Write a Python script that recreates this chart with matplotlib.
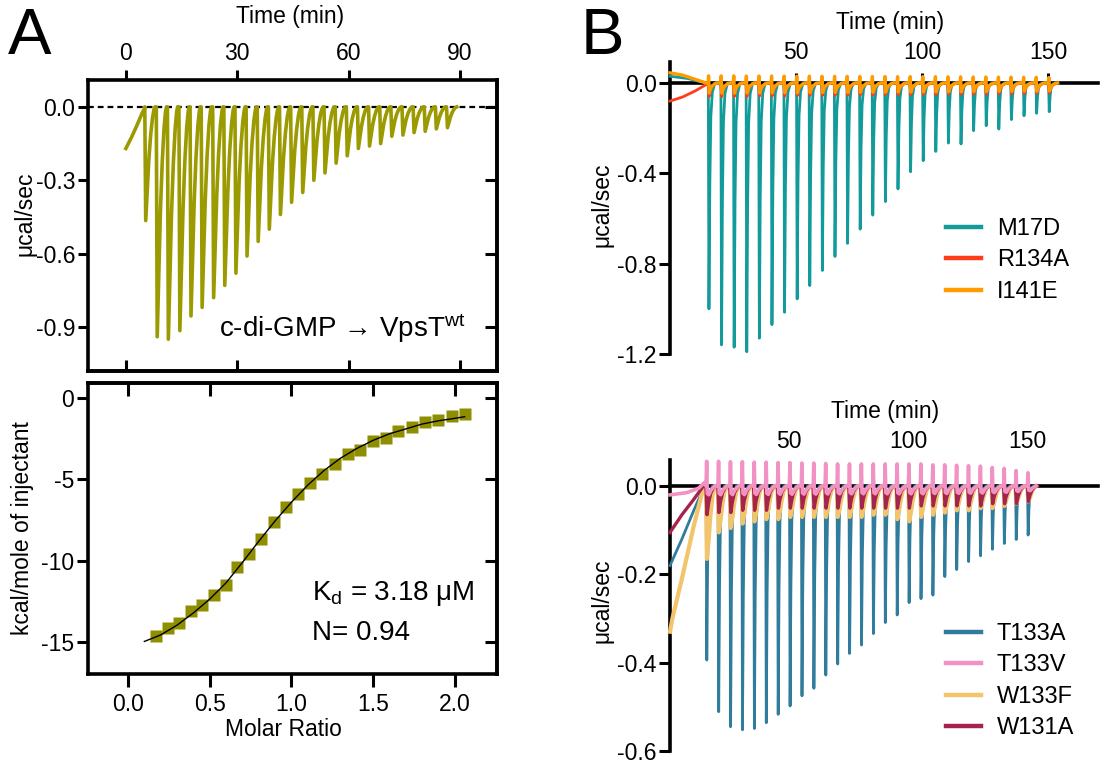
import matplotlib
matplotlib.use('Agg')
import matplotlib.pyplot as plt
from matplotlib.ticker import FormatStrFormatter

plt.rcParams['font.family'] = ['Liberation Sans', 'DejaVu Sans']
plt.rcParams['axes.unicode_minus'] = False
plt.rcParams['mathtext.fontset'] = 'custom'
plt.rcParams['mathtext.rm'] = 'Liberation Sans'
plt.rcParams['mathtext.it'] = 'Liberation Sans:italic'

# ---------------- data ----------------
# panel A, raw thermogram (c-di-GMP -> VpsT wt)
a_start = [(0.0, -0.17), (1.5, -0.125), (3.0, -0.075), (4.4, -0.025), (5.0, -0.008)]
a_inj = [5.3, 8.4, 11.4, 14.5, 17.5, 20.5, 23.6, 26.6, 29.6, 32.6, 35.6, 38.6, 41.6, 44.6,
         47.6, 50.6, 53.6, 56.6, 59.6, 62.6, 65.6, 68.6, 71.6, 74.6, 77.6, 80.6, 83.6, 86.6]
a_peak = [-0.465, -0.94, -0.95, -0.915, -0.855, -0.82, -0.78, -0.73, -0.68, -0.61, -0.55, -0.50,
          -0.44, -0.39, -0.35, -0.30, -0.27, -0.23, -0.20, -0.17, -0.16, -0.15, -0.12, -0.115,
          -0.105, -0.10, -0.09, -0.085]
a_shape = [(-0.2, 0.0), (0.05, 1.0), (0.45, 0.74), (0.9, 0.46), (1.4, 0.24), (1.9, 0.09),
           (2.3, 0.02), (2.55, 0.0)]

# panel A, integrated heats
molar_ratio = [0.169, 0.245, 0.31, 0.384, 0.453, 0.527, 0.598, 0.669, 0.741, 0.816, 0.892, 0.965,
               1.04, 1.116, 1.19, 1.265, 1.347, 1.418, 1.5, 1.578, 1.653, 1.735, 1.816, 1.898,
               1.98, 2.06]
heat = [-14.62, -14.1, -13.8, -13.1, -12.7, -12.1, -11.5, -10.4, -9.57, -8.65, -7.63, -6.69,
        -5.89, -5.21, -4.64, -4.05, -3.42, -3.17, -2.66, -2.45, -2.04, -1.78, -1.49, -1.33,
        -1.12, -0.96]
fit_x = [0.1, 0.2, 0.3, 0.4, 0.5, 0.6, 0.7, 0.8, 0.9, 1.0, 1.1, 1.2, 1.3, 1.4, 1.5, 1.6, 1.7,
         1.8, 1.9, 2.0, 2.06]
fit_y = [-14.95, -14.55, -13.95, -13.2, -12.35, -11.35, -10.1, -8.8, -7.55, -6.4, -5.35, -4.45,
         -3.7, -3.1, -2.6, -2.2, -1.9, -1.6, -1.4, -1.25, -1.15]

# panel B, injection times (min) shared by all mutants
b_inj = [15.3, 20.3, 25.3, 30.3, 35.3, 40.3, 45.3, 50.3, 55.3, 60.3, 65.3, 70.3, 75.3, 80.3,
         85.3, 90.3, 95.3, 100.3, 105.3, 110.3, 115.3, 120.3, 125.3, 130.3, 135.3, 140.3,
         145.3, 150.3]

# B top
m17d_start = [(0.0, 0.03), (7.0, 0.02), (12.0, 0.006), (15.0, 0.0)]
m17d_peak = [-1.00, -1.16, -1.17, -1.19, -1.13, -1.07, -1.015, -0.956, -0.897, -0.83, -0.768,
             -0.71, -0.647, -0.585, -0.525, -0.469, -0.393, -0.344, -0.303, -0.266, -0.27,
             -0.211, -0.189, -0.204, -0.162, -0.145, -0.134, -0.127]
r134a_start = [(0.0, -0.08), (5.0, -0.062), (10.0, -0.035), (14.5, -0.006)]
r134a_peak = [-0.06, -0.06, -0.06, -0.06, -0.058, -0.058, -0.058, -0.056, -0.056, -0.055, -0.055,
              -0.055, -0.054, -0.054, -0.053, -0.053, -0.052, -0.052, -0.052, -0.05, -0.05,
              -0.05, -0.05, -0.048, -0.048, -0.047, -0.046, -0.045]
i141e_start = [(0.0, 0.045), (5.0, 0.035), (10.0, 0.016), (14.3, 0.0)]
i141e_peak = [-0.045, -0.045, -0.045, -0.044, -0.044, -0.044, -0.043, -0.043, -0.043, -0.042,
              -0.042, -0.042, -0.041, -0.041, -0.041, -0.04, -0.04, -0.04, -0.04, -0.039,
              -0.039, -0.038, -0.038, -0.037, -0.037, -0.036, -0.036, -0.035]

# B bottom
t133a_start = [(0.0, -0.18), (5.0, -0.12), (10.0, -0.055), (13.5, -0.012), (15.0, 0.0)]
t133a_peak = [-0.394, -0.511, -0.545, -0.552, -0.549, -0.536, -0.517, -0.498, -0.475, -0.458,
              -0.428, -0.403, -0.379, -0.36, -0.334, -0.309, -0.292, -0.264, -0.255, -0.247,
              -0.205, -0.189, -0.171, -0.158, -0.143, -0.13, -0.121, -0.111]
w133f_start = [(0.0, -0.33), (1.0, -0.30), (5.0, -0.21), (10.0, -0.09), (14.2, 0.0)]
w133f_peak = [-0.165, -0.105, -0.095, -0.085, -0.08, -0.075, -0.075, -0.07, -0.07, -0.07, -0.07,
              -0.07, -0.07, -0.07, -0.065, -0.065, -0.075, -0.08, -0.07, -0.065, -0.06, -0.055,
              -0.055, -0.05, -0.05, -0.045, -0.04, -0.035]
w131a_start = [(0.0, -0.105), (5.0, -0.065), (10.0, -0.03), (14.0, 0.0)]
w131a_peak = [-0.065, -0.06, -0.06, -0.055, -0.055, -0.055, -0.05, -0.05, -0.05, -0.05, -0.05,
              -0.05, -0.05, -0.05, -0.05, -0.05, -0.05, -0.05, -0.045, -0.045, -0.045, -0.045,
              -0.045, -0.045, -0.04, -0.04, -0.04, -0.035]
t133v_start = [(0.0, -0.02), (7.0, -0.015), (12.0, -0.005), (14.5, 0.008)]
t133v_peak = [0.056, 0.056, 0.055, 0.055, 0.054, 0.054, 0.053, 0.053, 0.052, 0.052, 0.051, 0.05,
              0.05, 0.05, 0.05, 0.05, 0.05, 0.05, 0.05, 0.048, 0.048, 0.047, 0.046, 0.045,
              0.042, 0.04, 0.035, 0.03]

# peak profiles (time after injection, fraction of peak)
sharp_shape = [(-0.1, 0.0), (0.15, 1.0), (0.5, 0.45), (0.9, 0.15), (1.5, 0.04), (2.5, 0.0)]
red_shape = [(-0.2, 0.0), (0.2, 1.0), (0.8, 0.5), (1.6, 0.2), (3.0, 0.0)]
orange_shape = [(-0.2, 0.0), (0.0, -0.7), (0.25, 1.0), (0.7, 0.6), (1.4, 0.3), (2.5, 0.08), (3.5, 0.0)]
yellow_shape = [(-0.2, 0.0), (0.2, 1.0), (0.9, 0.75), (1.7, 0.4), (2.6, 0.12), (3.6, 0.0)]
maroon_shape = [(-0.2, 0.0), (0.25, 1.0), (0.9, 0.6), (1.8, 0.25), (3.0, 0.05), (4.0, 0.0)]
pink_shape = [(-0.15, 0.0), (0.1, 1.0), (0.35, -0.3), (1.0, -0.35), (2.0, -0.15), (3.5, 0.0)]


def trace(start, times, peaks, shape):
    ts = [p[0] for p in start]
    ys = [p[1] for p in start]
    for t0, d in zip(times, peaks):
        for dt, f in shape:
            ts.append(t0 + dt)
            ys.append(d * f)
    return ts, ys


W, H = 1105, 763
fig = plt.figure(figsize=(W / 100, H / 100), dpi=100)


def rect(l, t, r, b):
    return [l / W, 1 - b / H, (r - l) / W, (b - t) / H]


SPW = 2.6
TKW = 2.2
FS_TICK = 16.5
FS_LAB = 16.5

# ---------------- panel A top ----------------
olive = '#9b9a00'
ax1 = fig.add_axes(rect(88, 80, 497, 371))
tx, ty = trace(a_start, a_inj, a_peak, a_shape)
ax1.plot(tx, ty, color=olive, lw=2.6, solid_joinstyle='round', zorder=3)
ax1.axhline(0, color='black', lw=1.6, linestyle=(0, (2.6, 1.8)), zorder=2)
ax1.set_xlim(-10.2, 100)
ax1.set_ylim(-1.08, 0.11)
ax1.xaxis.tick_top()
ax1.set_xticks([0, 30, 60, 90])
ax1.set_yticks([0.0, -0.3, -0.6, -0.9])
ax1.yaxis.set_major_formatter(FormatStrFormatter('%.1f'))
ax1.tick_params(axis='x', direction='out', length=7, width=TKW, pad=4, labelsize=FS_TICK)
ax1.tick_params(axis='y', direction='out', length=7, width=TKW, pad=2, labelsize=FS_TICK,
                right=False)
s = ax1.secondary_xaxis('bottom')
s.set_xticks([0, 30, 60, 90], labels=[])
s.tick_params(direction='in', length=8, width=TKW)
s.spines['bottom'].set_linewidth(SPW)
s = ax1.secondary_yaxis('right')
s.set_yticks([0.0, -0.3, -0.6, -0.9], labels=[])
s.tick_params(direction='in', length=9, width=TKW)
s.spines['right'].set_linewidth(SPW)
for sp in ax1.spines.values():
    sp.set_linewidth(SPW)
ax1.set_xlabel('Time (min)', fontsize=FS_LAB, va='center')
ax1.xaxis.set_label_position('top')
ax1.xaxis.set_label_coords(0.494, 1.196)
ax1.set_ylabel('μcal/sec', fontsize=FS_LAB, va='center')
ax1.yaxis.set_label_coords(-0.154, 0.54)
ax1.text(0.924, 0.117, 'c-di-GMP → VpsT$^{\\rm wt}$', transform=ax1.transAxes,
         ha='right', va='baseline', fontsize=20)

# ---------------- panel A bottom ----------------
ax2 = fig.add_axes(rect(88, 383, 497, 674))
ax2.plot(fit_x, fit_y, color='black', lw=1.0, zorder=3)
ax2.plot(molar_ratio, heat, 's', color='#8f8e00', ms=8.6, mec='none', zorder=2)
ax2.set_xlim(-0.245, 2.258)
ax2.set_ylim(-16.95, 0.92)
ax2.set_xticks([0.0, 0.5, 1.0, 1.5, 2.0])
ax2.xaxis.set_major_formatter(FormatStrFormatter('%.1f'))
ax2.set_yticks([0, -5, -10, -15])
ax2.tick_params(axis='x', direction='out', length=9, width=TKW, pad=5, labelsize=FS_TICK,
                top=False)
ax2.tick_params(axis='y', direction='out', length=8, width=TKW, pad=2, labelsize=FS_TICK,
                right=False)
s = ax2.secondary_xaxis('top')
s.set_xticks([0.0, 0.5, 1.0, 1.5, 2.0], labels=[])
s.tick_params(direction='in', length=9, width=TKW)
s.spines['top'].set_linewidth(SPW)
s = ax2.secondary_yaxis('right')
s.set_yticks([0, -5, -10, -15], labels=[])
s.tick_params(direction='in', length=9, width=TKW)
s.spines['right'].set_linewidth(SPW)
for sp in ax2.spines.values():
    sp.set_linewidth(SPW)
ax2.set_xlabel('Molar Ratio', fontsize=FS_LAB, va='center')
ax2.xaxis.set_label_coords(0.479, -0.192)
ax2.set_ylabel('kcal/mole of injectant', fontsize=FS_LAB, va='center')
ax2.yaxis.set_label_coords(-0.160, 0.5)
ax2.text(0.548, 0.254, 'K$_{\\rm d}$ = 3.18 μM', transform=ax2.transAxes,
         ha='left', va='baseline', fontsize=20)
ax2.text(0.548, 0.117, 'N= 0.94', transform=ax2.transAxes,
         ha='left', va='baseline', fontsize=20)


# ---------------- panel B ----------------
def style_b(ax, xmax, ylo, yhi, yticks, label_pad):
    ax.set_xlim(0, xmax)
    ax.set_ylim(ylo, yhi)
    ax.spines['right'].set_visible(False)
    ax.spines['bottom'].set_visible(False)
    ax.spines['top'].set_position(('data', 0))
    ax.spines['top'].set_linewidth(SPW)
    ax.spines['left'].set_linewidth(SPW)
    ax.xaxis.tick_top()
    ax.set_xticks([50, 100, 150])
    ax.set_yticks(yticks)
    ax.yaxis.set_major_formatter(FormatStrFormatter('%.1f'))
    ax.tick_params(axis='x', direction='out', length=7, width=TKW, pad=label_pad,
                   labelsize=FS_TICK)
    ax.tick_params(axis='y', direction='out', length=8, width=TKW, pad=1.5,
                   labelsize=FS_TICK)
    ax.set_ylabel('μcal/sec', fontsize=FS_LAB, va='center')


def b_legend(ax, handles, labels, top_px):
    leg = ax.legend(handles, labels, loc='upper left',
                    bbox_to_anchor=(946 / W, 1 - top_px / H),
                    bbox_transform=fig.transFigure, frameon=False, fontsize=17,
                    handlelength=1.5, handletextpad=0.65, labelspacing=0.4,
                    borderpad=0, borderaxespad=0)
    for ln in leg.get_lines():
        ln.set_linewidth(3.2)


ax3 = fig.add_axes(rect(670, 62, 1098, 354))
for start, peaks, shape, col, lab, lw in [
        (m17d_start, m17d_peak, sharp_shape, '#139b9b', 'M17D', 2.0),
        (r134a_start, r134a_peak, red_shape, '#ff3c19', 'R134A', 2.0),
        (i141e_start, i141e_peak, orange_shape, '#ff9b00', 'I141E', 2.4)]:
    tx, ty = trace(start, b_inj, peaks, shape)
    ax3.plot(tx, ty, color=col, lw=lw, label=lab, zorder=3, clip_on=False)
style_b(ax3, 169.8, -1.2, 0.093, [0.0, -0.4, -0.8, -1.2], 7)
ax3.yaxis.set_label_coords(-0.159, 0.51)
fig.text(890 / W, 1 - 23 / H, 'Time (min)', ha='center', va='center', fontsize=FS_LAB)
h, l = ax3.get_legend_handles_labels()
b_legend(ax3, h, l, 218)

ax4 = fig.add_axes(rect(670, 460, 1098, 751))
for start, peaks, shape, col, lab, lw in [
        (t133a_start, t133a_peak, sharp_shape, '#2f7c9d', 'T133A', 2.0),
        (w133f_start, w133f_peak, yellow_shape, '#f2c46c', 'W133F', 3.0),
        (w131a_start, w131a_peak, maroon_shape, '#a3244f', 'W131A', 2.4),
        (t133v_start, t133v_peak, pink_shape, '#f291c3', 'T133V', 2.6)]:
    tx, ty = trace(start, b_inj, peaks, shape)
    ax4.plot(tx, ty, color=col, lw=lw, label=lab, zorder=3, clip_on=False)
style_b(ax4, 179.8, -0.6, 0.059, [0.0, -0.2, -0.4, -0.6], 17)
ax4.yaxis.set_label_coords(-0.159, 0.515)
fig.text(885 / W, 1 - 411 / H, 'Time (min)', ha='center', va='center', fontsize=FS_LAB)
h, l = ax4.get_legend_handles_labels()
order = [0, 3, 1, 2]
b_legend(ax4, [h[i] for i in order], [l[i] for i in order], 623)

# panel letters
fig.text(30 / W, 1 - 37 / H, 'A', ha='center', va='center', fontsize=47)
fig.text(602 / W, 1 - 37 / H, 'B', ha='center', va='center', fontsize=47)

fig.savefig('out.png', dpi=100)
